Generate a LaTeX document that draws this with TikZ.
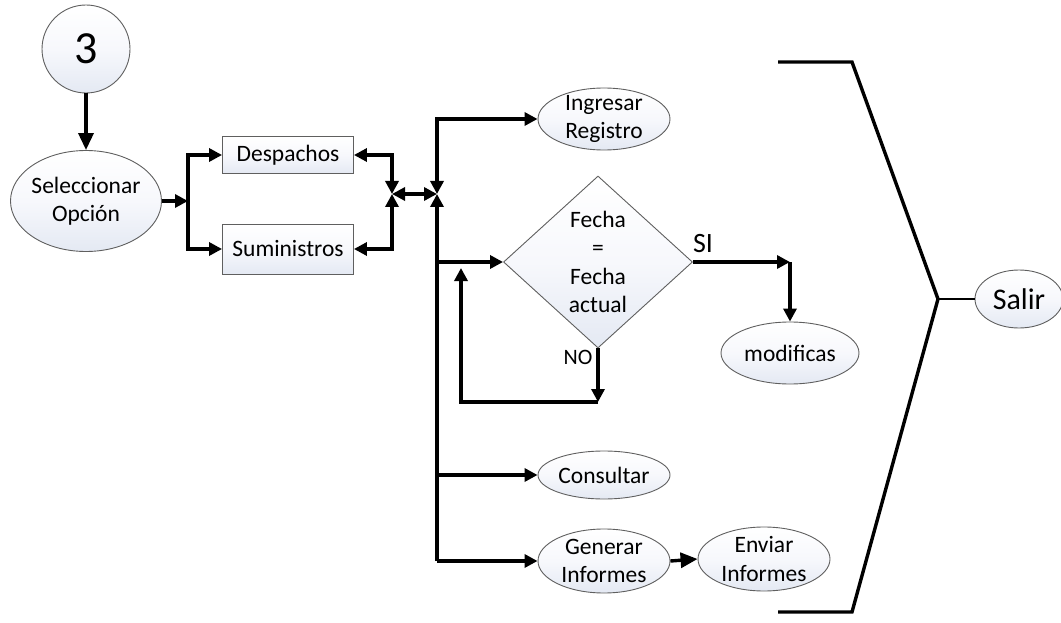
\documentclass[tikz,border=0pt]{standalone}
\usepackage{fontspec}
\setmainfont{Carlito}
\usetikzlibrary{arrows.meta,shapes.geometric}
\definecolor{bordergray}{RGB}{95,95,95}
\definecolor{fillbot}{RGB}{228,233,243}
\definecolor{fillmid}{RGB}{247,248,252}
\tikzset{
  shp/.style={draw=bordergray, line width=0.9pt, top color=white, bottom color=fillbot,
    middle color=fillmid, font=\fontsize{23.5}{28.5}\selectfont, align=center},
  ell/.style={shp, ellipse, inner sep=-10pt},
  box/.style={shp, rectangle, inner sep=0pt},
  dia/.style={shp, diamond, inner sep=-30pt},
  flowarrow/.style={line width=3.4pt, -{Triangle[length=13pt,width=13pt]}},
  bigflowarrow/.style={line width=3.4pt, -{Triangle[length=17pt,width=15pt]}},
  twoarrow/.style={line width=3.4pt, {Triangle[length=13pt,width=13pt]}-{Triangle[length=13pt,width=13pt]}},
  brk/.style={line width=3.4pt, line join=miter},
  lbl/.style={inner sep=0pt},
}
\begin{document}
\begin{tikzpicture}[x=1pt,y=-1pt]
\useasboundingbox (0,0) rectangle (1061,623);
% nodes
\node[shp, circle, inner sep=0pt, minimum size=88pt, font=\fontsize{46}{50}\selectfont] (C3) at (86,49) {3};
\node[ell, minimum width=151pt, minimum height=101pt] (Sel) at (86,201) {Seleccionar\\Opción};
\node[box, minimum width=131pt, minimum height=37pt] (Desp) at (288,155) {Despachos};
\node[box, minimum width=131pt, minimum height=50pt] (Sum) at (288,249) {Suministros};
\node[ell, minimum width=132pt, minimum height=62pt] (Ing) at (604,119) {Ingresar\\Registro};
\node[dia, minimum width=189pt, minimum height=172pt] (Dia) at (598,262) {Fecha\\=\\Fecha\\actual};
\node[ell, minimum width=138pt, minimum height=62pt] (Mod) at (790,353) {modificas};
\node[ell, minimum width=132pt, minimum height=48pt] (Cons) at (604,475) {Consultar};
\node[ell, minimum width=132pt, minimum height=64pt] (Gen) at (604,561) {Generar\\Informes};
\node[ell, minimum width=132pt, minimum height=64pt] (Env) at (764,559) {Enviar\\Informes};
\node[ell, minimum width=88pt, minimum height=58pt, font=\fontsize{30}{34}\selectfont] (Salir) at (1019,299) {Salir};
\node[lbl, font=\fontsize{28}{30}\selectfont] (SI) at (703,244) {SI};
\node[lbl, font=\fontsize{22}{24}\selectfont] (NO) at (578,357) {NO};
% coordinates
\coordinate (F1) at (188,201);
\coordinate (J1) at (392,194);
\coordinate (J2) at (437,194);
\coordinate (B2) at (437,262);
\coordinate (B3) at (437,475);
\coordinate (B4) at (437,561);
\coordinate (L1) at (598,402);
\coordinate (L2) at (461,268);
\coordinate (S1) at (790,262);
\coordinate (T1) at (778,62);
\coordinate (T2) at (852,62);
\coordinate (Tip) at (938,299);
\coordinate (T3) at (852,612);
\coordinate (T4) at (778,612);
% connectors
\draw[bigflowarrow] (C3.south) -- (Sel.north);
\draw[flowarrow] (Sel.east) -- (F1);
\draw[flowarrow] (F1) |- (Desp.west);
\draw[flowarrow] (F1) |- (Sum.west);
\draw[twoarrow] (Desp.east) -| (J1);
\draw[twoarrow] (Sum.east) -| (J1);
\draw[twoarrow] (J1) -- (J2);
\draw[twoarrow] (Ing.west) -| (J2);
\draw[flowarrow] (B4) -- (J2);
\draw[flowarrow] (B2) -- (Dia.west);
\draw[flowarrow] (B3) -- (Cons.west);
\draw[flowarrow] (B4) -- (Gen.west);
\draw[flowarrow] (Dia.south) -- (L1);
\draw[flowarrow] (L1) -| (L2);
\draw[flowarrow] (Dia.east) -- (S1);
\draw[flowarrow] (S1) -- (Mod.north);
\draw[bigflowarrow] (Gen.east) -- (Env.west);
\draw[brk] (T1) -- (T2) -- (Tip) -- (T3) -- (T4);
\draw[line width=2.4pt] (Tip) -- (Salir.west);
\end{tikzpicture}
\end{document}
